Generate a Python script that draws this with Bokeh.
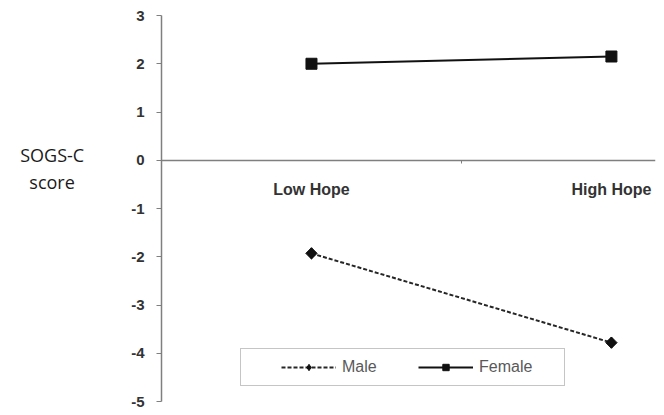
import math
from bokeh.plotting import figure
from bokeh.models import LinearAxis, FixedTicker, Range1d, Legend, LegendItem
from bokeh.embed import file_html
from bokeh.resources import INLINE

categories = ["Low Hope", "High Hope"]
male = [-1.93, -3.78]
female = [2.0, 2.15]
y_ticks = [-5, -4, -3, -2, -1, 0, 1, 2, 3]
y_title = "SOGS-C\nscore\u00a0\u00a0\n\n\n "

xs = list(range(len(categories)))

p = figure(width=660, height=410, output_backend="svg", toolbar_location=None,
           x_axis_type=None, y_axis_type=None,
           x_range=Range1d(-0.5, 1.147), y_range=Range1d(-5, 3),
           min_border_left=161, min_border_right=5, min_border_top=15, min_border_bottom=9)
p.outline_line_color = None
p.grid.visible = False
p.background_fill_color = "white"
p.border_fill_color = "white"

yaxis = LinearAxis(ticker=FixedTicker(ticks=y_ticks))
yaxis.major_label_overrides = {t: str(t) for t in y_ticks}
yaxis.axis_line_color = "#7f7f7f"
yaxis.axis_line_width = 1.5
yaxis.major_tick_line_color = "#7f7f7f"
yaxis.major_tick_out = 5
yaxis.major_tick_in = 0
yaxis.minor_tick_line_color = None
yaxis.major_label_text_font = "Liberation Sans"
yaxis.major_label_text_font_style = "bold"
yaxis.major_label_text_font_size = "15px"
yaxis.major_label_text_color = "#333333"
yaxis.major_label_standoff = 12
yaxis.axis_label = y_title
yaxis.axis_label_orientation = "horizontal"
yaxis.axis_label_text_font = "Open Sans"
yaxis.axis_label_text_font_style = "normal"
yaxis.axis_label_text_font_size = "18px"
yaxis.axis_label_text_line_height = 1.12
yaxis.axis_label_text_color = "#1a1a1a"
yaxis.axis_label_standoff = 44
p.add_layout(yaxis, "left")

xaxis = LinearAxis(ticker=FixedTicker(ticks=xs, minor_ticks=[0.5]))
xaxis.fixed_location = 0
xaxis.major_label_overrides = {i: c for i, c in zip(xs, categories)}
xaxis.axis_line_color = "#7f7f7f"
xaxis.axis_line_width = 1.5
xaxis.major_tick_line_color = None
xaxis.minor_tick_line_color = "#7f7f7f"
xaxis.minor_tick_out = 3
xaxis.minor_tick_in = 0
xaxis.major_label_text_font = "Liberation Sans"
xaxis.major_label_text_font_style = "bold"
xaxis.major_label_text_font_size = "16px"
xaxis.major_label_text_color = "#333333"
xaxis.major_label_standoff = 15
p.add_layout(xaxis, "below")

ml = p.line(xs, male, line_color="#262626", line_width=2, line_dash="4 2")
ms = p.scatter(xs, male, marker="square", angle=math.pi / 4, size=8,
               fill_color="#111111", line_color="#111111")
ms_key = p.scatter(xs, male, marker="diamond", size=11,
                   fill_color="#111111", line_color="#111111")
fl = p.line(xs, female, line_color="#111111", line_width=2)
fs = p.scatter(xs, female, marker="square", size=11, fill_color="#111111", line_color="#111111")

legend = Legend(items=[LegendItem(label="Male", renderers=[ml, ms_key]),
                       LegendItem(label="Female", renderers=[fl, fs])],
                orientation="horizontal", location=(79, 15))
legend.title = " "
legend.title_location = "left"
legend.title_text_font_size = "10px"
legend.title_standoff = 20
legend.border_line_color = "#8c8c8c"
legend.border_line_width = 1.5
legend.padding = 9
legend.margin = 0
legend.spacing = 0
legend.glyph_width = 55
legend.glyph_height = 16
legend.label_standoff = 6
legend.label_width = 76
legend.label_text_font = "Liberation Sans"
legend.label_text_font_size = "16px"
legend.label_text_color = "#595959"
legend.label_height = 16
legend.background_fill_color = "white"
legend.background_fill_alpha = 1
p.add_layout(legend, "center")

open("out.html", "w").write(file_html(p, INLINE))
